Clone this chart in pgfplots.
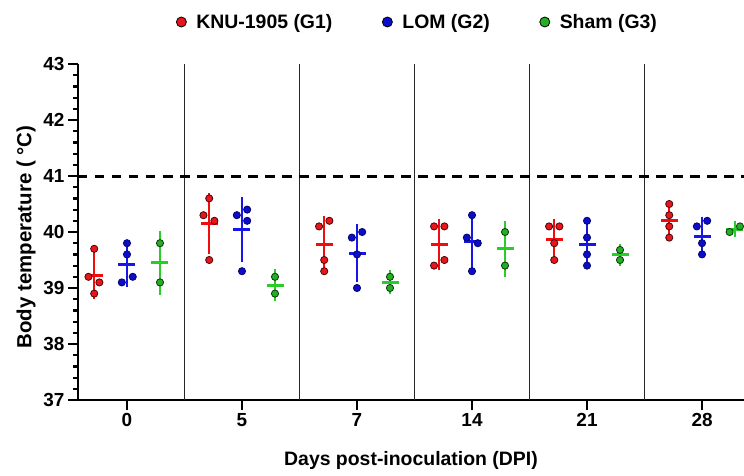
\documentclass[border=0pt]{standalone}
\usepackage{fontspec}
\setmainfont{Liberation Sans}
\usepackage{pgfplots}
\pgfplotsset{compat=1.18}
\definecolor{cR}{RGB}{232,22,28}
\definecolor{cB}{RGB}{12,12,205}
\definecolor{cG}{RGB}{34,175,34}
\definecolor{lR}{RGB}{242,12,12}
\definecolor{lB}{RGB}{22,22,235}
\definecolor{lG}{RGB}{40,205,40}
\begin{document}
\begin{tikzpicture}
\begin{axis}[
  at={(0,0)}, anchor=south west,
  scale only axis, width=666bp, height=336bp,
  xmin=-0.426, xmax=5.365, ymin=37, ymax=43,
  axis x line*=bottom, axis y line*=left,
  axis line style={-, line width=2.8bp, black},
  xtick={0,1,2,3,4,5}, xticklabels={0,5,7,14,21,28},
  ytick={37,38,39,40,41,42,43}, minor y tick num=4,
  tick align=outside,
  major tick length=10bp, minor tick length=5bp,
  tick style={line width=2.2bp, black},
  extra x ticks={0.5,1.5,2.5,3.5,4.5}, extra x tick labels={},
  extra x tick style={grid=major, major grid style={black!85, line width=1.2bp}, major tick length=0pt},
  /pgf/number format/assume math mode=true,
  tick label style={font=\fontsize{19}{19}\selectfont\bfseries},
  xlabel={Days post-inoculation (DPI)},
  ylabel={Body temperature ( °C)},
  label style={font=\fontsize{19.5}{20}\selectfont\bfseries},
  xlabel style={at={(rel axis cs:0.5,0)}, yshift=-60bp, anchor=center},
  ylabel style={at={(axis description cs:-0.078,0.485)}, anchor=center, font=\fontsize{20.5}{21}\selectfont\bfseries},
  legend style={at={(0.51,1.125)}, anchor=center, draw=none, fill=none,
    font=\fontsize{19.5}{22}\selectfont\bfseries,
    /tikz/every even column/.append style={column sep=48bp},
    /tikz/every odd column/.append style={column sep=8bp}},
  legend columns=3,
  clip=false,
]
% threshold
\addplot[forget plot, black, line width=3bp, dash pattern=on 9.5bp off 7.5bp] coordinates {(-0.426,41) (5.365,41)};
% means and SD
\addplot[forget plot, only marks, lR, mark=-, mark size=8.5bp, mark options={line width=3bp, lR},
  error bars/.cd, y dir=both, y explicit, error mark=-, error bar style={line width=2.4bp, lR},
  error mark options={line width=2.4bp, mark size=4.2bp, lR}]
  coordinates {(-0.285,39.225) +- (0,0.340) (0.715,40.15) +- (0,0.465) (1.715,39.775) +- (0,0.443)
               (2.715,39.775) +- (0,0.377) (3.715,39.875) +- (0,0.287) (4.715,40.2) +- (0,0.258)};
\addplot[forget plot, only marks, lB, mark=-, mark size=8.5bp, mark options={line width=3bp, lB},
  error bars/.cd, y dir=both, y explicit, error mark=-, error bar style={line width=2.4bp, lB},
  error mark options={line width=2.4bp, mark size=4.2bp, lB}]
  coordinates {(0,39.425) +- (0,0.330) (1,40.05) +- (0,0.507) (2,39.625) +- (0,0.450)
               (3,39.825) +- (0,0.411) (4,39.775) +- (0,0.350) (5,39.925) +- (0,0.275)};
\addplot[forget plot, only marks, lG, mark=-, mark size=8.5bp, mark options={line width=3bp, lG},
  error bars/.cd, y dir=both, y explicit, error mark=-, error bar style={line width=2.4bp, lG},
  error mark options={line width=2.4bp, mark size=4.2bp, lG}]
  coordinates {(0.287,39.45) +- (0,0.495) (1.287,39.05) +- (0,0.212) (2.287,39.1) +- (0,0.141)
               (3.287,39.7) +- (0,0.424) (4.287,39.59) +- (0,0.127) (5.285,40.05) +- (0,0.071)};
% individual points
\addplot[forget plot, only marks, mark=*, mark size=3.6bp, mark options={fill=cR, draw=black!70!cR, line width=0.8bp}]
  coordinates {(-0.285,39.7) (-0.335,39.2) (-0.24,39.1) (-0.285,38.9)
               (0.715,40.6) (0.665,40.3) (0.76,40.2) (0.715,39.5)
               (1.76,40.2) (1.67,40.1) (1.715,39.5) (1.715,39.3)
               (2.67,40.1) (2.76,40.1) (2.76,39.5) (2.67,39.4)
               (3.67,40.1) (3.76,40.1) (3.715,39.8) (3.715,39.5)
               (4.715,40.5) (4.715,40.3) (4.715,40.1) (4.715,39.9)};
\addplot[forget plot, only marks, mark=*, mark size=3.6bp, mark options={fill=cB, draw=black!50!cB, line width=0.8bp}]
  coordinates {(0,39.8) (0,39.6) (0.05,39.2) (-0.045,39.1)
               (1.045,40.4) (0.955,40.3) (1.045,40.2) (1,39.3)
               (2.045,40.0) (1.955,39.9) (2,39.6) (2,39.0)
               (3,40.3) (2.955,39.9) (3.05,39.8) (3,39.3)
               (4,40.2) (4,39.9) (4,39.6) (4,39.4)
               (5.045,40.2) (4.955,40.1) (5,39.8) (5,39.6)};
\addplot[forget plot, only marks, mark=*, mark size=3.6bp, mark options={fill=cG, draw=black!70!cG, line width=0.8bp}]
  coordinates {(0.287,39.8) (0.287,39.1) (1.287,39.2) (1.287,38.9)
               (2.287,39.2) (2.287,39.0) (3.287,40.0) (3.287,39.4)
               (4.287,39.68) (4.287,39.5) (5.24,40.0) (5.33,40.1)};
% legend
\addlegendimage{only marks, mark=*, mark size=5bp, mark options={fill=cR, draw=black, line width=0.8bp}}
\addlegendentry{KNU-1905 (G1)}
\addlegendimage{only marks, mark=*, mark size=5bp, mark options={fill=cB, draw=black, line width=0.8bp}}
\addlegendentry{LOM (G2)}
\addlegendimage{only marks, mark=*, mark size=5bp, mark options={fill=cG, draw=black, line width=0.8bp}}
\addlegendentry{Sham (G3)}
\end{axis}
\pgfresetboundingbox
\path (current axis.south west) ++(-78bp,-76bp) rectangle ++(744bp,476bp);
\end{tikzpicture}
\end{document}
